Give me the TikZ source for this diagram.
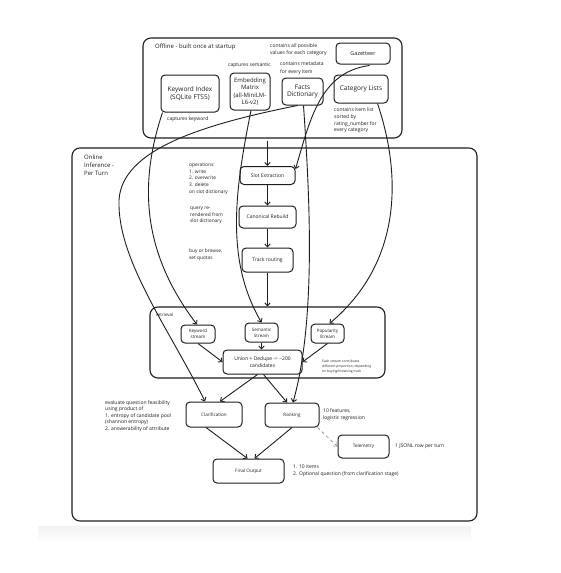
\documentclass[tikz,border=0pt]{standalone}
\usepackage{fontspec}
\setmainfont{Open Sans}
\usetikzlibrary{arrows.meta}
\definecolor{ink}{HTML}{1E1E1E}
\begin{document}
\begin{tikzpicture}[x=1pt,y=-1pt,
  box/.style={draw=ink, line width=1pt, rounded corners=4pt, align=center, inner sep=0pt, text=ink, font=\fontsize{5}{6}\selectfont},
  grp/.style={draw=ink, line width=1.1pt, rounded corners=8pt, inner sep=0pt},
  note/.style={anchor=north west, align=left, inner sep=0pt, text=ink, font=\fontsize{5}{6.8}\selectfont},
  conn/.style={draw=ink, line width=0.9pt, -{Straight Barb[length=3pt,width=5.5pt]}},
  dconn/.style={draw=black!45, line width=0.7pt, dashed, -{Straight Barb[length=3pt,width=5.5pt]}},
]
\useasboundingbox (0,0) rectangle (561,573);
\fill[white] (0,0) rectangle (561,573);
\shade[top color=black!5, bottom color=black!1] (38,526) rectangle (471,540);

% groups
\node[grp, minimum width=259pt, minimum height=100pt] (off) at (272.5,88) {};
\node[grp, minimum width=405pt, minimum height=373pt] (onl) at (274.5,334.5) {};
\node[grp, minimum width=235pt, minimum height=71pt] (ret) at (267.5,342.5) {};

% notes
\node[note, font=\fontsize{6}{7.5}\selectfont] (offt) at (155,44) {Offline - built once at startup};
\node[note, font=\fontsize{5}{7}\selectfont] (gazn) at (270,43.5) {contains all possible\\values for each category};
\node[note] (embn) at (228,62.5) {captures semantic};
\node[note, font=\fontsize{5}{7.8}\selectfont] (factn) at (280,61.5) {contains metadata\\for every item};
\node[note] (kwin) at (167,116.5) {captures keyword};
\node[note, font=\fontsize{5}{6.8}\selectfont] (catn) at (334,107.5) {contains item list\\sorted by\\rating\_number for\\every category};
\node[note, font=\fontsize{6}{7.8}\selectfont] (onlt) at (84,155) {Online\\Inference -\\Per Turn};
\node[note, font=\fontsize{4.8}{6.7}\selectfont] (opn) at (189,162.8) {operations:\\1. write\\2. overwrite\\3. delete\\on slot dictionary};
\node[note, font=\fontsize{4.8}{6.6}\selectfont] (qn) at (190,206.8) {query re-\\rendered from\\slot dictionary};
\node[note, font=\fontsize{4.8}{7}\selectfont] (bn) at (189,248.8) {buy or browse,\\set quotas};
\node[note, font=\fontsize{4.5}{5.5}\selectfont] (retn) at (156,313) {retrieval};
\node[note, font=\fontsize{3.3}{5}\selectfont] (esn) at (322,359.5) {Each stream contributes\\different proportion, depending\\on buying/browsing track};
\node[note, font=\fontsize{5}{6.6}\selectfont] (evn) at (105,400) {evaluate question feasibility\\using product of\\1. entropy of candidate pool\\(shannon entropy)\\2. answerability of attribute};
\node[note, font=\fontsize{5}{7.5}\selectfont] (rkn) at (323,408) {10 features,\\logistic regression};
\node[note] (teln) at (395,444) {1 JSONL row per turn};
\node[note, font=\fontsize{5}{7.2}\selectfont] (finn) at (293,464.5) {1. 10 items\\2. Optional question (from clarification stage)};

% boxes
\node[box, font=\fontsize{5.5}{6.5}\selectfont, minimum width=54pt, minimum height=21pt] (gaz) at (363,53.5) {Gazetteer};
\node[box, font=\fontsize{6.5}{7.6}\selectfont, minimum width=58pt, minimum height=37pt] (kwi) at (190,93.5) {Keyword Index\\(SQLite FTS5)};
\node[box, font=\fontsize{6}{7.5}\selectfont, minimum width=40pt, minimum height=37pt] (emb) at (250,91.5) {Embedding\\Matrix\\(all-MiniLM-\\L6-v2)};
\node[box, font=\fontsize{6.5}{7.6}\selectfont, minimum width=41pt, minimum height=27pt] (facts) at (302.5,91.5) {Facts\\Dictionary};
\node[box, font=\fontsize{6.5}{7.6}\selectfont, minimum width=54pt, minimum height=28pt] (cat) at (361,89) {Category Lists};
\node[box, minimum width=55pt, minimum height=18pt] (slot) at (267.5,175.5) {Slot Extraction};
\node[box, minimum width=57pt, minimum height=22pt] (canon) at (267.5,217) {Canonical Rebuild};
\node[box, minimum width=51pt, minimum height=24pt] (track) at (267.5,260) {Track routing};
\node[box, font=\fontsize{4.5}{5.8}\selectfont, minimum width=34pt, minimum height=18pt] (kws) at (198,334) {Keyword\\stream};
\node[box, font=\fontsize{4.5}{5.8}\selectfont, minimum width=33pt, minimum height=19pt] (sems) at (261.5,332.5) {Semantic\\Stream};
\node[box, font=\fontsize{4.5}{5.8}\selectfont, minimum width=33pt, minimum height=19pt] (pops) at (327.5,333.5) {Popularity\\Stream};
\node[box, font=\fontsize{5}{6.8}\selectfont, minimum width=79pt, minimum height=24pt] (uni) at (262.5,362) {Union + Dedupe -> \textasciitilde200\\candidates};
\node[box, font=\fontsize{4.6}{5.5}\selectfont, minimum width=56pt, minimum height=25pt] (clar) at (214,414.5) {Clarification};
\node[box, font=\fontsize{4.6}{5.5}\selectfont, minimum width=54pt, minimum height=24pt] (rank) at (292,415) {Ranking};
\node[box, font=\fontsize{4.6}{5.5}\selectfont, minimum width=51pt, minimum height=23pt] (tel) at (363.5,446.5) {Telemetry};
\node[box, font=\fontsize{4.6}{5.5}\selectfont, minimum width=71pt, minimum height=24pt] (fin) at (248.5,471) {Final Output};

% main flow
\draw[conn] ([yshift=-2pt]slot.north |- off.south) -- (slot);
\draw[conn] (slot) -- (canon);
\draw[conn] (canon) -- (track);
\draw[conn] (track) -- (ret);
\draw[conn] (kws.south) -- (uni.west);
\draw[conn] (sems.south) -- (sems.south |- uni.north);
\draw[conn] (pops.south) -- (uni.east);
\draw[conn] ([xshift=-5pt]uni.south) -- ([xshift=6pt]clar.north);
\draw[conn] ([xshift=1pt]uni.south) -- ([xshift=-5pt]rank.north);
\draw[conn] ([xshift=-8pt]clar.south) -- ([xshift=-1pt]fin.north);
\draw[conn] (rank.south) -- ([xshift=6pt]fin.north);
\draw[dconn] ([xshift=-2pt]rank.south east) -- (tel.west);

% offline-to-online curves
\draw[conn] ([xshift=2pt]kwi.south west) .. controls (140,180) and (140,250) .. ([xshift=-1pt]kws.north);
\draw[conn] ([xshift=-5pt]facts.south) .. controls (200,125) and (122,150) .. (119,200) .. controls (117,260) and (170,330) .. ([xshift=-9pt]clar.north);
\draw[conn] ([xshift=1pt]emb.south) .. controls (235,190) and (225,260) .. (sems.north);
\draw[conn] ([xshift=1pt]facts.south) .. controls (310,200) and (316,320) .. ([xshift=1pt]rank.north);
\draw[conn] ([xshift=-21pt,yshift=-1pt]gaz.south east) .. controls (320,72) and (310,120) .. ([yshift=-3pt]slot.north east);
\draw[conn] ([xshift=-11pt]cat.south east) .. controls (400,170) and (405,260) .. ([xshift=2pt]pops.north);
\end{tikzpicture}
\end{document}
